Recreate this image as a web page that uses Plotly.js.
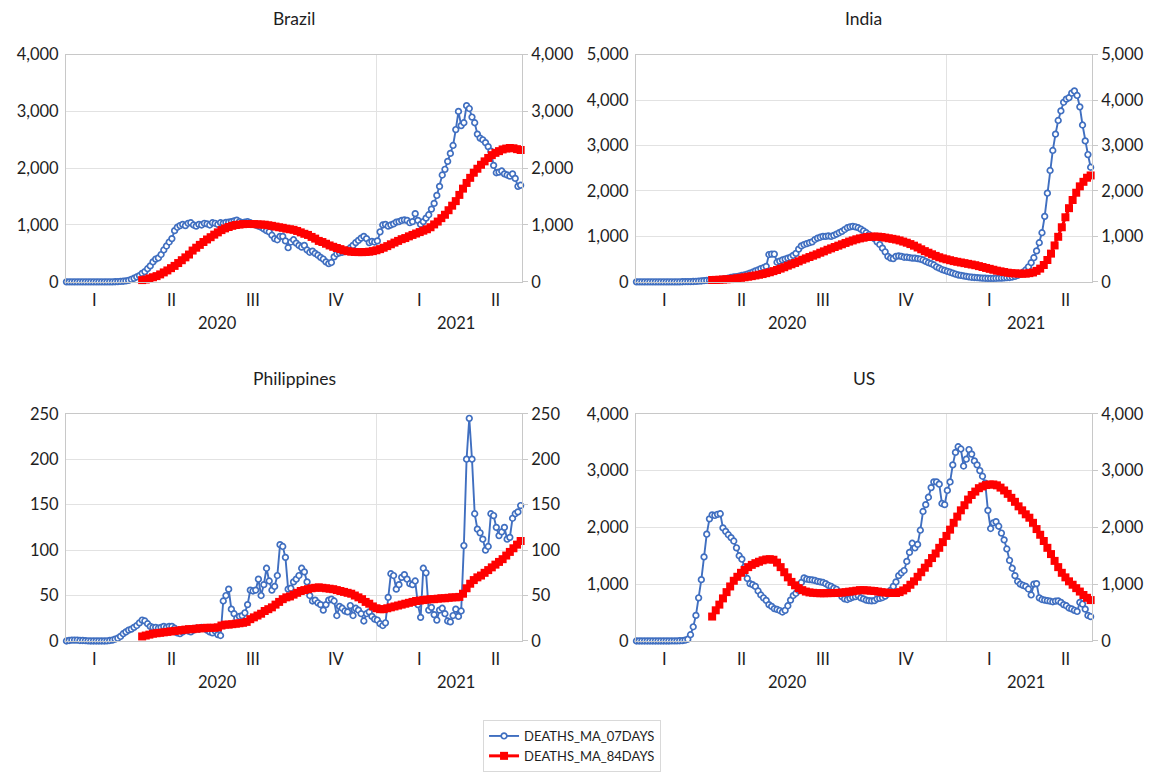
<!DOCTYPE html>
<html>
<head>
<meta charset="utf-8">
<script src="https://cdn.plot.ly/plotly-3.0.1.min.js"></script>
<style>
  html, body { margin: 0; padding: 0; background: #ffffff; }
  #chart { width: 1149px; height: 772px; }
</style>
</head>
<body>
<div id="chart"></div>
<script>
// Daily deaths, 7-day moving average, sampled every 3 days from 2020-01-22
const START_7 = '2020-01-22', STEP_7 = 3;
// 84-day moving average, sampled every 4 days from 2020-04-15
const START_84 = '2020-04-15', STEP_84 = 4;

const brazil7 = [
  0,0,0,0,0,0,0,0,0,0,
  0,0,0,0,0,0,0,0,1,3,
  6,10,16,26,44,62,85,110,150,180,
  230,280,350,400,420,480,560,630,700,760,
  900,960,990,1010,990,1030,1040,1000,980,1010,
  1000,1030,1020,1000,1040,1030,1010,1040,1030,1045,
  1050,1060,1070,1085,1060,1040,1050,1060,1040,1020,
  1000,980,960,930,900,880,820,760,740,800,
  800,720,600,700,740,680,640,610,640,560,
  520,540,500,470,430,400,350,320,340,440,
  490,510,520,530,560,600,640,690,730,770,
  800,760,690,710,700,720,880,1000,1010,980,
  1000,1020,1050,1060,1080,1090,1080,1040,1060,1200,
  1080,1010,1060,1120,1180,1280,1380,1520,1680,1880,
  1980,2120,2260,2400,2680,3000,2750,2800,3100,3050,
  2900,2800,2600,2530,2500,2450,2380,2300,2050,1920,
  1930,1950,1900,1880,1860,1900,1820,1680,1700
];
const brazil84 = [
  30,40,60,80,100,130,165,200,240,280,
  330,380,430,480,550,600,650,700,745,785,
  830,870,910,940,965,985,1000,1008,1015,1018,
  1018,1016,1012,1008,1005,995,985,972,960,950,
  935,925,915,895,870,845,825,790,760,720,
  700,670,640,616,595,575,555,540,530,525,
  523,522,525,530,540,555,575,600,628,660,
  690,720,750,770,800,825,850,875,900,925,
  960,1010,1060,1120,1180,1260,1340,1420,1530,1640,
  1740,1830,1920,1990,2060,2120,2180,2230,2270,2300,
  2330,2345,2355,2350,2335,2320
];

const india7 = [
  0,0,0,0,0,0,0,0,0,0,
  0,0,0,0,0,0,0,1,2,3,
  4,6,9,13,18,25,30,35,38,40,
  45,50,60,70,80,95,105,115,125,140,
  150,170,190,210,240,260,290,310,340,600,
  610,610,430,455,480,500,520,540,580,625,
  720,790,820,840,860,880,930,960,980,1000,
  1000,1010,1000,1020,1050,1080,1110,1150,1190,1210,
  1220,1210,1190,1160,1120,1080,1040,990,950,880,
  820,740,660,560,520,510,560,570,560,540,
  540,530,520,520,510,500,480,450,420,400,
  370,330,300,270,250,230,210,190,170,150,
  140,130,120,110,100,95,90,85,80,78,
  75,75,75,78,80,82,85,90,95,105,
  120,140,170,210,260,330,420,530,680,860,
  1080,1440,1950,2450,2890,3250,3550,3760,3950,4020,
  4050,4150,4200,4100,3850,3450,3100,2800,2520
];
const india84 = [
  40,42,45,50,55,60,68,78,88,100,
  112,125,140,155,170,190,210,235,260,290,
  320,355,385,415,450,485,515,545,575,605,
  640,670,705,735,765,795,825,855,885,910,
  935,955,970,985,992,995,993,985,972,958,
  945,930,910,885,860,830,795,755,715,675,
  640,605,570,540,515,495,475,455,440,425,
  410,395,380,365,345,325,305,285,265,245,
  230,215,200,190,185,180,178,180,190,205,
  240,290,370,480,620,800,990,1200,1420,1620,
  1800,1960,2100,2200,2290,2340
];

const philippines7 = [
  0,0.5,1,1,1,0.5,0.5,0.3,0.2,0,
  0,0,0,0,0,0.2,0.5,1,2,3,
  5,8,10,12,13,15,17,20,23,22,
  19,16,15,15,14,15,16,15,16,16,
  14,9,8,10,12,11,10,12,14,13,
  15,14,12,10,9,11,7,6,44,50,
  57,35,30,25,27,28,31,40,56,55,
  56,68,50,62,80,66,56,60,72,106,
  104,92,57,58,65,68,72,80,76,65,
  50,44,45,42,40,34,40,45,46,44,
  28,38,36,33,32,39,28,36,34,30,
  22,30,32,27,24,23,19,17,20,48,
  74,72,57,62,70,73,68,63,62,66,
  40,26,80,75,34,37,29,23,34,36,
  30,22,21,28,35,27,33,105,200,245,
  200,140,123,119,112,100,104,140,138,125,
  116,120,125,112,114,135,140,142,149
];
const philippines84 = [
  5,6,7,8,8.5,9,9.5,10,10.5,11,
  11.5,12,12.5,13,13,13.5,14,14,14.5,14.5,
  14.5,15,17,18,18,18.5,19,19.5,20,21,
  24,26,28,30,33,35,37,40,43,46,
  48,49,51,53,55,56,57,58,58.5,59,
  58.5,58,57.5,57,56,55,54,53,52,50,
  48,46,43,41,38,36,35,35,36,37,
  38,39,40,41,42,43,44,44.5,45,45.5,
  46,46,46.5,47,47,47.5,48,48,48.5,52,
  58,63,67,70,72,75,78,81,84,87,
  90,94,98,102,106,110
];

const us7 = [
  0,0,0,0,0,0,0,0,0,0,
  0,0,0,0.3,1,2,4,7,14,30,
  110,250,450,760,1080,1480,1880,2150,2220,2210,
  2230,2240,1990,1930,1870,1820,1760,1640,1500,1440,
  1300,1100,1010,990,960,880,810,760,715,640,
  610,570,555,536,510,540,620,720,800,840,
  890,1030,1110,1090,1080,1075,1065,1050,1040,1030,
  1010,980,960,930,910,860,780,740,730,750,
  770,780,800,760,740,720,710,705,710,740,
  750,765,790,830,890,960,1040,1150,1200,1240,
  1400,1560,1720,1640,1700,1950,2280,2400,2530,2700,
  2800,2800,2760,2420,2400,2650,2800,3100,3320,3420,
  3380,3080,3200,3370,3290,3170,3100,3000,2900,2780,
  2300,1980,2080,2100,2020,1900,1780,1620,1420,1280,
  1150,1050,1000,980,960,915,810,1000,1010,760,
  730,720,710,700,690,700,705,680,640,620,
  580,565,540,520,680,650,560,450,430
];
const us84 = [
  430,540,640,750,860,960,1060,1130,1200,1250,
  1300,1340,1370,1395,1420,1435,1440,1430,1380,1300,
  1210,1120,1040,980,930,895,870,855,848,843,
  840,840,842,843,845,848,852,860,868,875,
  885,895,895,890,885,880,870,860,852,848,
  845,845,860,890,930,990,1050,1130,1210,1290,
  1370,1460,1540,1640,1740,1850,1960,2080,2190,2300,
  2390,2490,2570,2630,2690,2720,2745,2755,2755,2740,
  2700,2650,2590,2520,2450,2370,2300,2230,2170,2080,
  1970,1870,1760,1640,1530,1410,1300,1200,1120,1050,
  990,930,870,810,760,720
];

// Axis labels: quarters and years
const quarterLabels = ['I', 'II', 'III', 'IV', 'I', 'II'];
const quarterLabelDates = ['2020-02-22', '2020-05-18', '2020-08-16', '2020-11-17', '2021-02-17', '2021-05-12'];
const yearLabels = ['2020', '2021'];
const yearLabelDates = ['2020-07-08', '2021-03-29'];
const yearBoundary = '2020-12-31 12:00';
const xRange = ['2020-01-21 12:00', '2021-06-10 12:00'];

const countries = ['Brazil', 'India', 'Philippines', 'US'];
const series7 = [brazil7, india7, philippines7, us7];
const series84 = [brazil84, india84, philippines84, us84];
const yMax = [4000, 5000, 250, 4000];
const yStep = [1000, 1000, 50, 1000];

const NAME_7 = 'DEATHS_MA_07DAYS';
const NAME_84 = 'DEATHS_MA_84DAYS';
const BLUE = '#406FC0';
const RED = '#FF0000';
const TEXT = '#1e1e1e';
const AXIS_LINE = '#c8c8c8';
const GRID = '#e2e2e2';
const FONT = 'Lato, "Open Sans", sans-serif';

function dayList(start, step, n) {
  const t0 = Date.parse(start + 'T00:00:00Z');
  const out = [];
  for (let i = 0; i < n; i++) {
    out.push(new Date(t0 + i * step * 86400000).toISOString().slice(0, 10));
  }
  return out;
}

// subplot grid (paper fractions)
const colDomains = [[0.05744, 0.45431], [0.55352, 0.95039]];
const rowDomains = [[0.63212, 0.92876], [0.16321, 0.45984]];

const traces = [];
const layout = {
  width: 1149,
  height: 772,
  autosize: false,
  margin: { l: 0, r: 0, t: 0, b: 0, pad: 0 },
  paper_bgcolor: '#ffffff',
  plot_bgcolor: '#ffffff',
  font: { family: FONT, size: 16.5, color: TEXT },
  showlegend: true,
  legend: {
    orientation: 'v',
    x: 0.4204, xanchor: 'left',
    y: 0.0596, yanchor: 'top',
    bgcolor: '#ffffff',
    bordercolor: '#d9d9d9',
    borderwidth: 1,
    font: { family: FONT, size: 13, color: TEXT },
    tracegroupgap: 0
  },
  annotations: []
};

countries.forEach((country, i) => {
  const k = i + 1;
  const xName = k === 1 ? 'x' : 'x' + k;
  const yName = k === 1 ? 'y' : 'y' + k;
  const y2Name = 'y' + (k + 4);
  const col = i % 2, row = Math.floor(i / 2);

  layout['xaxis' + (k === 1 ? '' : k)] = {
    type: 'date',
    domain: colDomains[col],
    anchor: yName,
    range: xRange,
    tickvals: [yearBoundary],
    showticklabels: false,
    ticks: '',
    showgrid: true,
    gridcolor: GRID,
    gridwidth: 1,
    showline: true,
    mirror: true,
    linecolor: AXIS_LINE,
    linewidth: 1,
    zeroline: false,
    fixedrange: true
  };
  layout['yaxis' + (k === 1 ? '' : k)] = {
    domain: rowDomains[row],
    anchor: xName,
    range: [0, yMax[i]],
    dtick: yStep[i],
    tick0: 0,
    tickformat: ',d',
    showgrid: true,
    gridcolor: GRID,
    gridwidth: 1,
    showline: true,
    linecolor: AXIS_LINE,
    linewidth: 1,
    ticks: '',
    zeroline: false,
    ticklabelstandoff: 3,
    tickfont: { family: FONT, size: 16.5, color: TEXT },
    fixedrange: true
  };
  layout['yaxis' + (k + 4)] = {
    overlaying: yName,
    anchor: xName,
    side: 'right',
    range: [0, yMax[i]],
    dtick: yStep[i],
    tick0: 0,
    tickformat: ',d',
    showgrid: false,
    showline: true,
    linecolor: AXIS_LINE,
    linewidth: 1,
    ticks: 'outside',
    ticklen: 5,
    tickcolor: AXIS_LINE,
    zeroline: false,
    ticklabelstandoff: 0,
    tickfont: { family: FONT, size: 16.5, color: TEXT },
    fixedrange: true
  };

  traces.push({
    type: 'scatter',
    mode: 'lines+markers',
    name: NAME_7,
    legendgroup: NAME_7,
    showlegend: i === 0,
    x: dayList(START_7, STEP_7, series7[i].length),
    y: series7[i],
    xaxis: xName,
    yaxis: yName,
    cliponaxis: false,
    line: { color: BLUE, width: 1.9 },
    marker: { symbol: 'circle', size: 5.6, color: '#ffffff', line: { color: BLUE, width: 1.7 } },
    hoverinfo: 'skip'
  });
  traces.push({
    type: 'scatter',
    mode: 'lines+markers',
    name: NAME_84,
    legendgroup: NAME_84,
    showlegend: i === 0,
    x: dayList(START_84, STEP_84, series84[i].length),
    y: series84[i],
    xaxis: xName,
    yaxis: y2Name,
    cliponaxis: false,
    line: { color: RED, width: 3 },
    marker: { symbol: 'square', size: 8, color: RED, line: { width: 0 } },
    hoverinfo: 'skip'
  });

  // subplot title
  layout.annotations.push({
    text: country,
    xref: xName + ' domain', x: 0.5,
    yref: yName + ' domain', y: 1.157,
    xanchor: 'center', yanchor: 'middle',
    showarrow: false,
    font: { family: FONT, size: 17.5, color: TEXT }
  });
  // quarter labels
  quarterLabels.forEach((q, j) => {
    layout.annotations.push({
      text: q,
      xref: xName, x: quarterLabelDates[j],
      yref: yName + ' domain', y: -0.08,
      xanchor: 'center', yanchor: 'middle',
      showarrow: false,
      font: { family: FONT, size: 16.5, color: TEXT }
    });
  });
  // year labels
  yearLabels.forEach((yl, j) => {
    layout.annotations.push({
      text: yl,
      xref: xName, x: yearLabelDates[j],
      yref: yName + ' domain', y: -0.18,
      xanchor: 'center', yanchor: 'middle',
      showarrow: false,
      font: { family: FONT, size: 16.5, color: TEXT }
    });
  });
});

// draw the overlaying (84-day) traces after the 7-day traces so they sit on top
const ordered = traces.filter(t => t.name === NAME_7).concat(traces.filter(t => t.name === NAME_84));

Plotly.newPlot('chart', ordered, layout, { staticPlot: true, displayModeBar: false });
</script>
</body>
</html>
